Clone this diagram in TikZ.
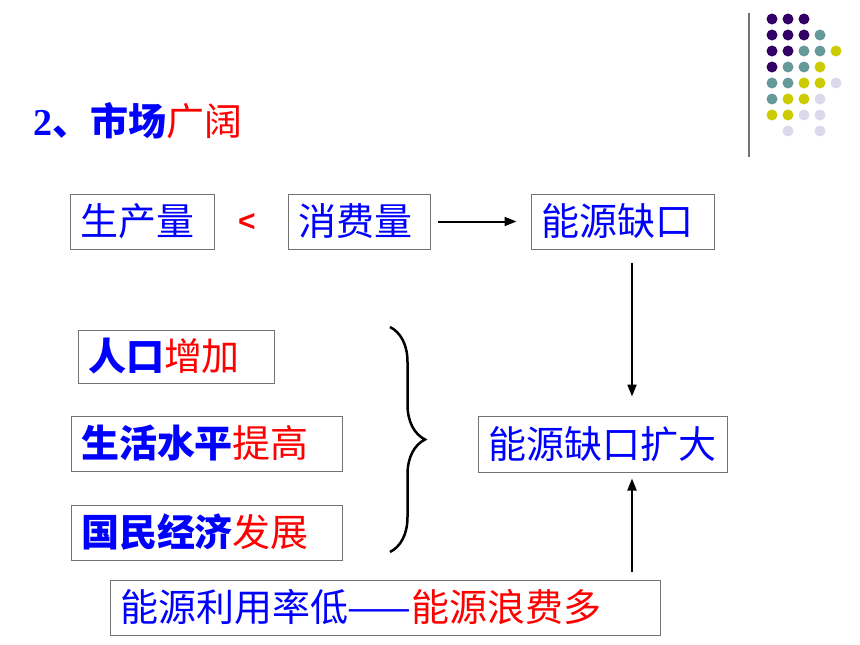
\documentclass[tikz,border=0pt]{standalone}
\usepackage{fontspec}
\setmainfont{Noto Sans CJK SC}
\newfontfamily\numfont{Liberation Serif}
\newfontfamily\symfont{Liberation Sans}
\usepackage{xcolor}
\usetikzlibrary{arrows.meta,decorations.pathreplacing}
\definecolor{kblue}{HTML}{0000FF}
\definecolor{kred}{HTML}{FF0000}
\definecolor{dotpurple}{HTML}{330066}
\definecolor{dotteal}{HTML}{669999}
\definecolor{dotyellow}{HTML}{CCCC00}
\definecolor{dotlilac}{HTML}{D9D9EB}
\tikzset{box/.style={draw=black!55, line width=1pt, inner xsep=10pt, inner ysep=0pt, minimum height=55pt, text width=#1, align=left, text=kblue, font=\fontsize{38}{40}\selectfont}}

\begin{document}
\begin{tikzpicture}[x=1pt, y=-1pt,
  link/.style={-{Triangle[length=12pt,width=9pt]}, line width=2pt},
  dotP/.style={fill=dotpurple}, dotT/.style={fill=dotteal},
  dotY/.style={fill=dotyellow}, dotL/.style={fill=dotlilac}, dotN/.style={}]
\useasboundingbox (0,0) rectangle (860,645);
\node (title) at (33,121) [anchor=west, inner sep=0pt, text=kblue, font=\fontsize{38}{40}\selectfont\bfseries] {{\numfont 2}、市场{\mdseries\color{kred}广阔}};
\node (prod) at (142,221.5) [box=124pt] {生产量};
\node (lt) at (247,222) [inner sep=0pt, text=kred, font=\fontsize{30}{30}\selectfont\symfont\bfseries] {<};
\node (cons) at (359,221.5) [box=122pt] {消费量};
\node (gap) at (622.5,221.5) [box=163pt] {能源缺口};
\node (pop) at (176,356.5) [box=176pt, minimum height=53pt] {{\bfseries 人口}{\color{kred}增加}};
\node (life) at (206.5,443.5) [box=251pt] {{\bfseries 生活水平}{\color{kred}提高}};
\node (econ) at (206.5,532.5) [box=251pt] {{\bfseries 国民经济}{\color{kred}发展}};
\node (gapbig) at (602.5,444) [box=229pt, minimum height=56pt] {能源缺口扩大};
\node (waste) at (385,607.5) [box=530pt] {能源利用率低——{\color{kred}能源浪费多}};
\draw[link, shorten <=7pt, shorten >=14pt] (cons) -- (gap);
\draw[link, shorten <=13pt, shorten >=19pt] (632,0 |- gap.south) -- (632,0 |- gapbig.north);
\draw[link, shorten <=8pt, shorten >=6pt] (632,0 |- waste.north) -- (632,0 |- gapbig.south);
\draw[line width=2.5pt, decorate, decoration={brace, amplitude=35pt}] (390,327) -- (390,552);
\draw[black!55, line width=1.5pt] (749,13) -- (749,157);
\foreach \row [count=\j from 0] in {{P,P,P},{P,P,P,T},{P,P,T,T,Y},{P,T,T,Y},{T,T,Y,Y,L},{T,Y,Y,L},{Y,Y,L,L},{N,L,N,L}}
  \foreach \c [count=\i from 0] in \row
    \path[dot\c] (772+16*\i, 19+16*\j) circle (5.5);
\end{tikzpicture}
\end{document}
